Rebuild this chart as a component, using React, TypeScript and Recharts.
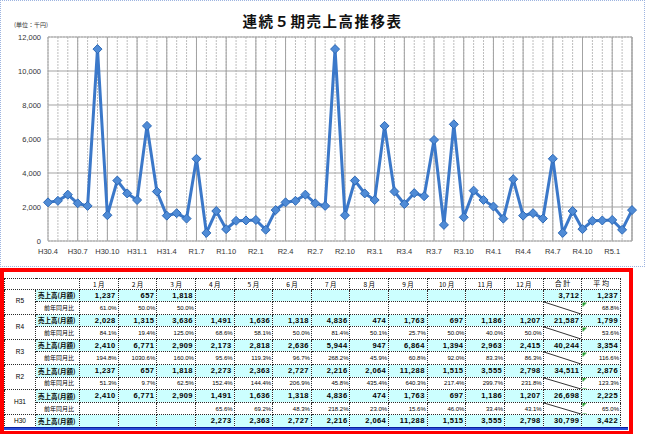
import React from 'react';
import { LineChart, Line, XAxis, YAxis, CartesianGrid, ReferenceLine } from 'recharts';

// 売上高（月額）単位：千円, 1月〜12月
const R5_SALES = [1237, 657, 1818, null, null, null, null, null, null, null, null, null];
const R4_SALES = [2028, 1315, 3636, 1491, 1636, 1318, 4836, 474, 1763, 697, 1186, 1207];
const R3_SALES = [2410, 6771, 2909, 2173, 2818, 2636, 5944, 947, 6864, 1394, 2963, 2415];
const R2_SALES = [1237, 657, 1818, 2273, 2363, 2727, 2216, 2064, 11288, 1515, 3555, 2798];
const H31_SALES = [2410, 6771, 2909, 1491, 1636, 1318, 4836, 474, 1763, 697, 1186, 1207];
const H30_SALES = [null, null, null, 2273, 2363, 2727, 2216, 2064, 11288, 1515, 3555, 2798];

// 前年同月比 (%)
const R5_PCT = [61.0, 50.0, 50.0, null, null, null, null, null, null, null, null, null];
const R4_PCT = [84.1, 19.4, 125.0, 68.6, 58.1, 50.0, 81.4, 50.1, 25.7, 50.0, 40.0, 50.0];
const R3_PCT = [194.8, 1030.6, 160.0, 95.6, 119.3, 96.7, 268.2, 45.9, 60.8, 92.0, 83.3, 86.3];
const R2_PCT = [51.3, 9.7, 62.5, 152.4, 144.4, 206.9, 45.8, 435.4, 640.3, 217.4, 299.7, 231.8];
const H31_PCT = [null, null, null, 65.6, 69.2, 48.3, 218.2, 23.0, 15.6, 46.0, 33.4, 43.1];

const TOTALS = [3712, 21587, 40244, 34511, 26698, 30799];
const AVERAGES = [1237, 1799, 3354, 2876, 2225, 3422];
const AVG_PCT = [68.8, 53.6, 116.6, 123.3, 65.0, null];

const ROW_NAMES = ['R5', 'R4', 'R3', 'R2', 'H31', 'H30'];
const MONTH_HEADERS = ['1 月', '2 月', '3 月', '4 月', '5 月', '6 月', '7 月', '8 月', '9 月', '10 月', '11 月', '12 月'];
const Y_TICKS = [0, 2000, 4000, 6000, 8000, 10000, 12000];

const rows = [
  { name: ROW_NAMES[0], sales: R5_SALES, pct: R5_PCT },
  { name: ROW_NAMES[1], sales: R4_SALES, pct: R4_PCT },
  { name: ROW_NAMES[2], sales: R3_SALES, pct: R3_PCT },
  { name: ROW_NAMES[3], sales: R2_SALES, pct: R2_PCT },
  { name: ROW_NAMES[4], sales: H31_SALES, pct: H31_PCT },
  { name: ROW_NAMES[5], sales: H30_SALES, pct: null as (number | null)[] | null },
].map((r, i) => ({ ...r, total: TOTALS[i], avg: AVERAGES[i], avgPct: AVG_PCT[i] }));

// chart runs oldest -> newest
const chartData: { label: string; value: number }[] = [];
[...rows].reverse().forEach((r) => {
  r.sales.forEach((v, m) => {
    if (v == null) return;
    let era = r.name;
    if (era === 'H31' && m + 1 >= 5) era = 'R1';
    chartData.push({ label: `${era}.${m + 1}`, value: v });
  });
});
const lastLabel = chartData[chartData.length - 1].label;
const yMinor = Array.from({ length: 31 }, (_, i) => i * 400);

const fmt = (v: number | null | undefined) => (v == null ? '' : v.toLocaleString('en-US'));
const fmtPct = (v: number | null | undefined) => (v == null ? '' : `${v.toFixed(1)}%`);

const Diamond = (props: any) => {
  const { cx, cy, index } = props;
  if (cx == null || cy == null) return <g key={index} />;
  const r = 4.5;
  return (
    <path
      key={index}
      d={`M${cx},${cy - r}L${cx + r},${cy}L${cx},${cy + r}L${cx - r},${cy}Z`}
      fill="#4f8bd6"
      stroke="#2d69b6"
      strokeWidth={1}
    />
  );
};

const diagUrl =
  "url(\"data:image/svg+xml;utf8,<svg xmlns='http://www.w3.org/2000/svg' preserveAspectRatio='none' viewBox='0 0 10 10'><line x1='0' y1='0' x2='10' y2='10' stroke='%23333' stroke-width='1' vector-effect='non-scaling-stroke'/></svg>\")";

const cellBase: React.CSSProperties = {
  border: '1px dotted #2a2a2a',
  padding: 0,
  lineHeight: 1,
  whiteSpace: 'nowrap',
  overflow: 'hidden',
};
const salesCell: React.CSSProperties = {
  ...cellBase,
  background: '#ccffff',
  fontWeight: 'bold',
  fontSize: 7.5,
  letterSpacing: 0.4,
  textAlign: 'right',
  paddingRight: 2,
};
const pctCell: React.CSSProperties = {
  ...cellBase,
  background: '#ffffff',
  fontSize: 6,
  textAlign: 'right',
  paddingRight: 1,
  borderTop: '1px dotted #9a9a9a',
};
const jp = '"Noto Sans CJK JP", sans-serif';

const DataTable = () => {
  const colW = 541 / 14;
  return (
    <table
      style={{
        position: 'absolute',
        left: 4,
        top: 278,
        width: 616,
        borderCollapse: 'collapse',
        tableLayout: 'fixed',
        fontFamily: '"Liberation Sans", "Noto Sans CJK JP", sans-serif',
        color: '#000',
      }}
    >
      <colgroup>
        <col style={{ width: 31 }} />
        <col style={{ width: 44 }} />
        {Array.from({ length: 14 }, (_, i) => (
          <col key={i} style={{ width: colW }} />
        ))}
      </colgroup>
      <tbody>
        <tr style={{ height: 10.5 }}>
          <td colSpan={2} style={{ ...cellBase, background: '#fff' }} />
          {MONTH_HEADERS.map((h) => (
            <td key={h} style={{ ...cellBase, fontSize: 6.5, textAlign: 'center', fontFamily: jp }}>
              {h}
            </td>
          ))}
          <td style={{ ...cellBase, fontSize: 7, textAlign: 'center', fontFamily: jp }}>合 計</td>
          <td style={{ ...cellBase, fontSize: 7, textAlign: 'center', fontFamily: jp }}>平 均</td>
        </tr>
        {rows.map((r) => (
          <React.Fragment key={r.name}>
            <tr style={{ height: 12.6 }}>
              <td
                rowSpan={r.pct ? 2 : 1}
                style={{ ...cellBase, background: '#fff', fontSize: 6.5, textAlign: 'center' }}
              >
                {r.name}
              </td>
              <td
                style={{
                  ...cellBase,
                  background: '#ccffff',
                  fontWeight: 'bold',
                  fontSize: 6.5,
                  paddingLeft: 2,
                  fontFamily: jp,
                }}
              >
                売上高(月額)
              </td>
              {r.sales.map((v, i) => (
                <td key={i} style={salesCell}>
                  {fmt(v)}
                </td>
              ))}
              <td style={salesCell}>{fmt(r.total)}</td>
              <td style={salesCell}>{fmt(r.avg)}</td>
            </tr>
            {r.pct && (
              <tr style={{ height: 12.6 }}>
                <td
                  style={{
                    ...cellBase,
                    borderTop: '1px dotted #9a9a9a',
                    background: '#fff',
                    fontSize: 6,
                    paddingLeft: 8,
                    fontFamily: jp,
                  }}
                >
                  前年同月比
                </td>
                {r.pct.map((v, i) => (
                  <td key={i} style={pctCell}>
                    {fmtPct(v)}
                  </td>
                ))}
                <td
                  style={{
                    ...pctCell,
                    backgroundColor: '#fff',
                    backgroundImage: diagUrl,
                    backgroundSize: '100% 100%',
                    backgroundRepeat: 'no-repeat',
                  }}
                />
                <td
                  style={{
                    ...pctCell,
                    background: 'linear-gradient(135deg, #1f9a2a 0 3px, #fff 3px)',
                  }}
                >
                  {fmtPct(r.avgPct)}
                </td>
              </tr>
            )}
          </React.Fragment>
        ))}
      </tbody>
    </table>
  );
};

export default function App() {
  return (
    <div
      style={{
        position: 'absolute',
        left: 0,
        top: 0,
        width: 645,
        height: 434,
        overflow: 'hidden',
        background: '#fff',
        fontFamily: '"Liberation Sans", "Noto Sans CJK JP", sans-serif',
      }}
    >
      <div
        style={{
          position: 'absolute',
          left: 0,
          top: 0,
          width: 645,
          height: 267,
          boxSizing: 'border-box',
          border: '1px dotted #9db4e0',
        }}
      />
      <div
        style={{
          position: 'absolute',
          left: 0,
          top: 14,
          width: 645,
          textAlign: 'center',
          fontFamily: jp,
          fontWeight: 'bold',
          fontSize: 14.5,
          letterSpacing: 1.5,
          lineHeight: 1,
          color: '#111',
        }}
      >
        連続５期売上高推移表
      </div>
      <div
        style={{
          position: 'absolute',
          left: 14,
          top: 22,
          fontFamily: jp,
          fontSize: 6,
          lineHeight: 1,
          color: '#333',
        }}
      >
        (単位：千円)
      </div>
      <div style={{ position: 'absolute', left: 0, top: 0 }}>
        <LineChart width={645} height={266} data={chartData} margin={{ top: 37, right: 13, left: 0, bottom: 0 }}>
          <XAxis xAxisId="minor" dataKey="label" hide interval={0} />
          <YAxis yAxisId="minor" hide domain={[0, 12000]} ticks={yMinor} interval={0} />
          <CartesianGrid xAxisId="minor" yAxisId="minor" stroke="#bdbdbd" strokeDasharray="2 1" />
          <CartesianGrid stroke="#a3a3a3" />
          <ReferenceLine x={lastLabel} stroke="#a3a3a3" />
          <XAxis
            dataKey="label"
            interval={2}
            tickLine={false}
            axisLine={false}
            height={25}
            tick={{ fontSize: 7.5, fill: '#333' }}
          />
          <YAxis
            width={48}
            domain={[0, 12000]}
            ticks={Y_TICKS}
            tickLine={false}
            axisLine={false}
            tickSize={6}
            tickMargin={1}
            tickFormatter={(v: number) => v.toLocaleString('en-US')}
            tick={{ fontSize: 7.5, fill: '#333' }}
          />
          <Line
            type="linear"
            dataKey="value"
            stroke="#3b78c9"
            strokeWidth={3}
            dot={Diamond}
            activeDot={false}
            isAnimationActive={false}
          />
        </LineChart>
      </div>
      <div
        style={{
          position: 'absolute',
          left: 0,
          top: 268,
          width: 633,
          height: 167,
          boxSizing: 'border-box',
          border: '4px solid #ff0000',
        }}
      />
      <DataTable />
      <div
        style={{
          position: 'absolute',
          left: 4,
          top: 427,
          width: 624,
          height: 3,
          background: '#2a4bd7',
          borderTop: '1px solid #0a1f9e',
          boxSizing: 'border-box',
        }}
      />
    </div>
  );
}
